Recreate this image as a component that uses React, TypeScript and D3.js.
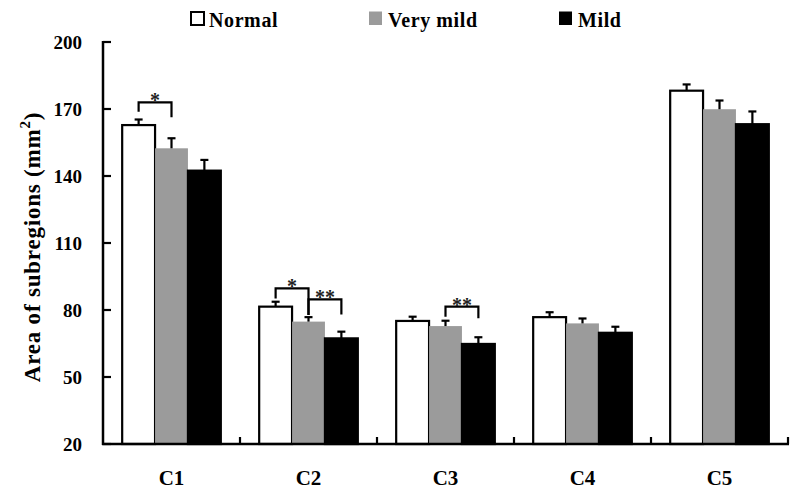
import * as d3 from "d3";
import { useEffect } from "react";

// categories + series
const categories = ["C1", "C2", "C3", "C4", "C5"];
const seriesNames = ["Normal", "Very mild", "Mild"];
const seriesColors = ["#ffffff", "#9b9b9b", "#000000"];

const normal = [162.8, 81.5, 75.1, 76.8, 178.2];
const veryMild = [152.4, 74.8, 72.8, 74.0, 169.9];
const mild = [142.4, 67.3, 64.8, 69.8, 163.2];

const normalErr = [2.5, 2.2, 1.9, 2.2, 2.8];
const veryMildErr = [4.5, 2.0, 2.4, 2.2, 3.9];
const mildErr = [4.8, 3.0, 3.0, 2.7, 5.7];

const yTicks = [20, 50, 80, 110, 140, 170, 200];

// significance brackets: category, series from/to, bracket level, leg ends, label
const brackets = [
  { cat: "C1", from: 0, to: 1, top: 173, leftEnd: 168.8, rightEnd: 166.3, label: "*" },
  { cat: "C2", from: 0, to: 1, top: 89.7, leftEnd: 85.2, rightEnd: 77.8, label: "*" },
  { cat: "C2", from: 1, to: 2, top: 84.8, leftEnd: 77.8, rightEnd: 78.0, label: "**" },
  { cat: "C3", from: 1, to: 2, top: 81.5, leftEnd: 77.0, rightEnd: 76.3, label: "**" },
];

const W = 800;
const H = 496;
const FONT = "'Liberation Serif', 'Times New Roman', serif";

const App = () => {
  useEffect(() => {
    document.body.style.margin = "0";
  }, []);

  const values = [normal, veryMild, mild];
  const errs = [normalErr, veryMildErr, mildErr];

  const x = d3.scaleBand<string>()
    .domain(categories)
    .range([103, 788])
    .paddingInner(0.28)
    .paddingOuter(0.14);
  const xs = d3.scaleBand<number>()
    .domain(d3.range(seriesNames.length))
    .range([0, x.bandwidth()]);
  const y = d3.scaleLinear().domain([20, 200]).range([444, 42]);

  const step = x.step();
  const x0 = x.range()[0];
  const x1 = x.range()[1];
  const yBase = y(20);

  // boundaries between categories (inward ticks)
  const catTicks = categories.map((c) => (x(c) as number) + x.bandwidth() + step * 0.14);

  const cx = (cat: string, s: number) => (x(cat) as number) + (xs(s) as number) + xs.bandwidth() / 2;

  const legendX = [190, 369, 559];

  return (
    <svg width={W} height={H} style={{ display: "block", background: "#fff" }} fontFamily={FONT}>
      {/* legend */}
      {seriesNames.map((name, i) => (
        <g key={name} transform={`translate(${legendX[i]},0)`}>
          <rect
            x={i === 0 ? 1 : 0}
            y={i === 0 ? 12 : 11.5}
            width={13}
            height={i === 0 ? 13 : 13.5}
            fill={seriesColors[i]}
            stroke={i === 0 ? "#000" : "none"}
            strokeWidth={2}
          />
          <text x={19} y={26.5} fontSize={20} fontWeight="bold" letterSpacing={0.6} fill="#000">{name}</text>
        </g>
      ))}

      {/* bars */}
      {categories.map((cat, ci) => (
        <g key={cat}>
          {values.map((vals, s) => (
            <rect
              key={s}
              x={(x(cat) as number) + (xs(s) as number)}
              y={y(vals[ci])}
              width={xs.bandwidth()}
              height={yBase - y(vals[ci])}
              fill={seriesColors[s]}
              stroke={s === 1 ? "none" : "#000"}
              strokeWidth={2.2}
            />
          ))}
          {values.map((vals, s) => {
            const px = cx(cat, s);
            const top = y(vals[ci] + errs[s][ci]);
            return (
              <g key={"e" + s} stroke="#000" strokeWidth={2.2}>
                <line x1={px} x2={px} y1={y(vals[ci])} y2={top} />
                <line x1={px - 4} x2={px + 4} y1={top} y2={top} />
              </g>
            );
          })}
        </g>
      ))}

      {/* significance brackets */}
      {brackets.map((b, i) => {
        const xa = cx(b.cat, b.from);
        const xb = cx(b.cat, b.to);
        const yt = y(b.top);
        return (
          <g key={i}>
            <path
              d={`M${xa},${y(b.leftEnd)}V${yt}H${xb}V${y(b.rightEnd)}`}
              fill="none"
              stroke="#000"
              strokeWidth={2.2}
            />
            <text x={(xa + xb) / 2} y={yt + 5} textAnchor="middle" fontSize={20} fontWeight="bold" fill="#222">
              {b.label}
            </text>
          </g>
        );
      })}

      {/* y axis */}
      <line x1={x0} x2={x0} y1={y(200) - 1} y2={yBase + 1} stroke="#000" strokeWidth={2.5} />
      {yTicks.map((t) => (
        <g key={t}>
          <line x1={x0} x2={x0 + 8} y1={y(t)} y2={y(t)} stroke="#000" strokeWidth={2.2} />
          <text x={82} y={y(t)} dy="0.36em" textAnchor="end" fontSize={19} fontWeight="bold" fill="#000">
            {t}
          </text>
        </g>
      ))}

      {/* x axis */}
      <line x1={x0 - 1} x2={x1 + 1} y1={yBase} y2={yBase} stroke="#000" strokeWidth={2.5} />
      {catTicks.map((t, i) => (
        <line key={i} x1={t} x2={t} y1={yBase} y2={yBase - 7} stroke="#000" strokeWidth={2.2} />
      ))}
      {categories.map((c) => (
        <text
          key={c}
          x={(x(c) as number) + x.bandwidth() / 2}
          y={485}
          textAnchor="middle"
          fontSize={21}
          fontWeight="bold"
          fill="#000"
        >
          {c}
        </text>
      ))}

      {/* y title */}
      <text
        transform={`translate(40,${(y(200) + yBase) / 2 + 4}) rotate(-90)`}
        textAnchor="middle"
        fontSize={23}
        fontWeight="bold"
        letterSpacing={0.8}
        fill="#000"
      >
        Area of subregions (mm
        <tspan dy={-10} fontSize={15}>2</tspan>
        <tspan dy={10}>)</tspan>
      </text>
    </svg>
  );
};

export default App;
